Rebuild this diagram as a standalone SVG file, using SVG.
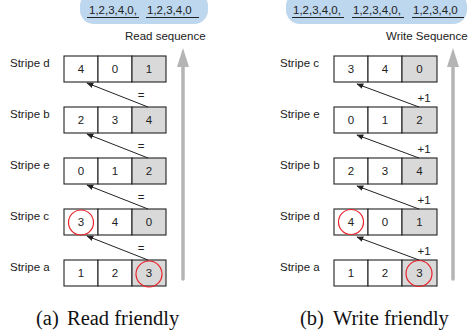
<svg xmlns="http://www.w3.org/2000/svg" width="468" height="334" viewBox="0 0 468 334">
<style>
.lbl{font-family:"Liberation Sans",Arial,sans-serif;font-size:11.5px;fill:#222}
.num{font-family:"Liberation Sans",Arial,sans-serif;font-size:11.5px;fill:#222;text-anchor:middle}
.cell{fill:#fff;stroke:#222;stroke-width:1.1}
.par{fill:#d9d9d9;stroke:#222;stroke-width:1.1}
.red{fill:none;stroke:#e8232a;stroke-width:1.2}
.conn{stroke:#222;stroke-width:1;fill:none;marker-end:url(#ah)}
.ul{stroke:#222;stroke-width:1}
.cap{font-family:"Liberation Serif","Times New Roman",serif;font-size:20.5px;fill:#111}
.big{stroke:#b4b4b4;stroke-width:3.5;stroke-linecap:round}
</style>
<defs>
<marker id="ah" viewBox="0 0 10 10" refX="9" refY="5" markerWidth="7" markerHeight="7" orient="auto" markerUnits="userSpaceOnUse">
<path d="M0,1 L10,5 L0,9 Z" fill="#222"/>
</marker>
</defs>

<!-- Left panel -->
<g id="read-seq">
<rect x="80" y="-8" width="128" height="32" rx="14" fill="#bcd7ee"/>
<text class="lbl" x="89" y="14">1,2,3,4,0,</text>
<text class="lbl" x="147" y="14">1,2,3,4,0</text>
<line class="ul" x1="87" y1="17.5" x2="139" y2="17.5"/>
<line class="ul" x1="146" y1="17.5" x2="199" y2="17.5"/>
<text class="lbl" x="125" y="40">Read sequence</text>
<line class="big" x1="183" y1="64" x2="183" y2="279"/>
<path d="M183,48 L189,67 L177,67 Z" fill="#b4b4b4"/>
</g>

<g id="a-stripe-d">
<text class="lbl" x="10" y="67">Stripe d</text>
<rect class="cell" x="64" y="56" width="34" height="26"/><rect class="cell" x="98" y="56" width="34" height="26"/><rect class="par" x="132" y="56" width="34" height="26"/>
<text class="num" x="81" y="73">4</text><text class="num" x="115" y="73">0</text><text class="num" x="149" y="73">1</text>
</g>
<g id="a-stripe-b">
<text class="lbl" x="10" y="118">Stripe b</text>
<rect class="cell" x="64" y="107" width="34" height="26"/><rect class="cell" x="98" y="107" width="34" height="26"/><rect class="par" x="132" y="107" width="34" height="26"/>
<text class="num" x="81" y="124">2</text><text class="num" x="115" y="124">3</text><text class="num" x="149" y="124">4</text>
</g>
<g id="a-stripe-e">
<text class="lbl" x="10" y="169">Stripe e</text>
<rect class="cell" x="64" y="158" width="34" height="26"/><rect class="cell" x="98" y="158" width="34" height="26"/><rect class="par" x="132" y="158" width="34" height="26"/>
<text class="num" x="81" y="175">0</text><text class="num" x="115" y="175">1</text><text class="num" x="149" y="175">2</text>
</g>
<g id="a-stripe-c">
<text class="lbl" x="10" y="220">Stripe c</text>
<rect class="cell" x="64" y="209" width="34" height="26"/><rect class="cell" x="98" y="209" width="34" height="26"/><rect class="par" x="132" y="209" width="34" height="26"/>
<text class="num" x="81" y="226">3</text><text class="num" x="115" y="226">4</text><text class="num" x="149" y="226">0</text>
<circle class="red" cx="81" cy="222.5" r="12.5"/>
</g>
<g id="a-stripe-a">
<text class="lbl" x="10" y="271">Stripe a</text>
<rect class="cell" x="64" y="260" width="34" height="26"/><rect class="cell" x="98" y="260" width="34" height="26"/><rect class="par" x="132" y="260" width="34" height="26"/>
<text class="num" x="81" y="277">1</text><text class="num" x="115" y="277">2</text><text class="num" x="149" y="277">3</text>
<circle class="red" cx="149" cy="274" r="13"/>
</g>

<!-- Right panel -->
<g id="write-seq">
<rect x="286" y="-8" width="181" height="32" rx="14" fill="#bcd7ee"/>
<text class="lbl" x="293" y="14">1,2,3,4,0,</text>
<text class="lbl" x="353" y="14">1,2,3,4,0,</text>
<text class="lbl" x="413" y="14">1,2,3,4,0</text>
<line class="ul" x1="292" y1="17.5" x2="344" y2="17.5"/>
<line class="ul" x1="352" y1="17.5" x2="404" y2="17.5"/>
<line class="ul" x1="412" y1="17.5" x2="464" y2="17.5"/>
<text class="lbl" x="386" y="40">Write Sequence</text>
<line class="big" x1="453" y1="64" x2="453" y2="279"/>
<path d="M453,48 L459,67 L447,67 Z" fill="#b4b4b4"/>
</g>

<g id="b-stripe-c">
<text class="lbl" x="280" y="67">Stripe c</text>
<rect class="cell" x="334" y="56" width="34" height="26"/><rect class="cell" x="368" y="56" width="34" height="26"/><rect class="par" x="402" y="56" width="35" height="26"/>
<text class="num" x="351" y="73">3</text><text class="num" x="385" y="73">4</text><text class="num" x="419.5" y="73">0</text>
</g>
<g id="b-stripe-e">
<text class="lbl" x="280" y="118">Stripe e</text>
<rect class="cell" x="334" y="107" width="34" height="26"/><rect class="cell" x="368" y="107" width="34" height="26"/><rect class="par" x="402" y="107" width="35" height="26"/>
<text class="num" x="351" y="124">0</text><text class="num" x="385" y="124">1</text><text class="num" x="419.5" y="124">2</text>
</g>
<g id="b-stripe-b">
<text class="lbl" x="280" y="169">Stripe b</text>
<rect class="cell" x="334" y="158" width="34" height="26"/><rect class="cell" x="368" y="158" width="34" height="26"/><rect class="par" x="402" y="158" width="35" height="26"/>
<text class="num" x="351" y="175">2</text><text class="num" x="385" y="175">3</text><text class="num" x="419.5" y="175">4</text>
</g>
<g id="b-stripe-d">
<text class="lbl" x="280" y="220">Stripe d</text>
<rect class="cell" x="334" y="209" width="34" height="26"/><rect class="cell" x="368" y="209" width="34" height="26"/><rect class="par" x="402" y="209" width="35" height="26"/>
<text class="num" x="351" y="226">4</text><text class="num" x="385" y="226">0</text><text class="num" x="419.5" y="226">1</text>
<circle class="red" cx="351" cy="222" r="12.5"/>
</g>
<g id="b-stripe-a">
<text class="lbl" x="280" y="271">Stripe a</text>
<rect class="cell" x="334" y="260" width="34" height="26"/><rect class="cell" x="368" y="260" width="34" height="26"/><rect class="par" x="402" y="260" width="35" height="26"/>
<text class="num" x="351" y="277">1</text><text class="num" x="385" y="277">2</text><text class="num" x="419.5" y="277">3</text>
<circle class="red" cx="419" cy="273.5" r="13"/>
</g>

<g id="connectors">
<line class="conn" x1="148" y1="107" x2="87" y2="83"/>
<line class="conn" x1="148" y1="158" x2="87" y2="134"/>
<line class="conn" x1="148" y1="209" x2="87" y2="185"/>
<line class="conn" x1="148" y1="260" x2="87" y2="236"/>
<text class="num" x="141" y="99">=</text>
<text class="num" x="141" y="150">=</text>
<text class="num" x="141" y="201">=</text>
<text class="num" x="141" y="252">=</text>
<line class="conn" x1="419" y1="107" x2="357" y2="84"/>
<line class="conn" x1="419" y1="158" x2="357" y2="135"/>
<line class="conn" x1="419" y1="209" x2="357" y2="186"/>
<line class="conn" x1="419" y1="260" x2="357" y2="237"/>
<text class="num" x="424" y="102">+1</text>
<text class="num" x="424" y="153">+1</text>
<text class="num" x="424" y="204">+1</text>
<text class="num" x="424" y="255">+1</text>
</g>

<g id="captions">
<text class="cap" x="36" y="325">(a)</text>
<text class="cap" x="67" y="325">Read friendly</text>
<text class="cap" x="300" y="325">(b)</text>
<text class="cap" x="333" y="325">Write friendly</text>
</g>
</svg>
